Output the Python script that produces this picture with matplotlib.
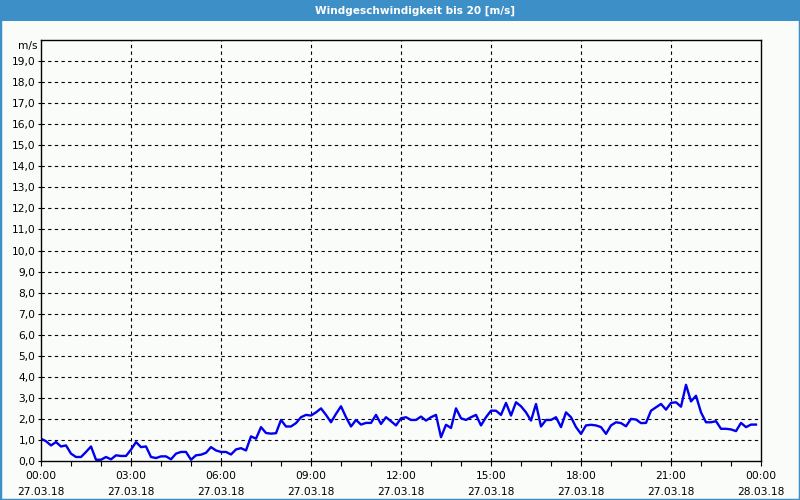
import matplotlib.pyplot as plt
from matplotlib.patches import Rectangle
from matplotlib.ticker import FixedLocator, MultipleLocator

# --- Daten: Windgeschwindigkeit in 10-Minuten-Schritten (27.03.18) ---
step_h = 1 / 6
wind = [
    1.06, 0.94, 0.74, 0.90, 0.69, 0.74, 0.35, 0.19, 0.19, 0.43,
    0.69, 0.06, 0.06, 0.19, 0.08, 0.27, 0.24, 0.24, 0.54, 0.90,
    0.66, 0.69, 0.19, 0.14, 0.22, 0.22, 0.08, 0.35, 0.43, 0.43,
    0.06, 0.27, 0.30, 0.39, 0.66, 0.50, 0.43, 0.43, 0.31, 0.55,
    0.61, 0.50, 1.17, 1.06, 1.61, 1.33, 1.30, 1.32, 1.95, 1.64,
    1.64, 1.80, 2.08, 2.19, 2.16, 2.31, 2.50, 2.19, 1.84, 2.24,
    2.60, 2.08, 1.64, 1.95, 1.73, 1.81, 1.81, 2.19, 1.76, 2.08,
    1.89, 1.69, 2.03, 2.08, 1.95, 1.95, 2.11, 1.92, 2.08, 2.19,
    1.13, 1.72, 1.57, 2.50, 2.03, 1.95, 2.08, 2.19, 1.69, 2.08,
    2.39, 2.39, 2.19, 2.76, 2.16, 2.79, 2.60, 2.31, 1.92, 2.71,
    1.64, 1.95, 1.95, 2.08, 1.61, 2.31, 2.08, 1.61, 1.29, 1.69,
    1.72, 1.69, 1.61, 1.29, 1.69, 1.84, 1.80, 1.65, 2.00, 1.97,
    1.80, 1.81, 2.39, 2.55, 2.71, 2.44, 2.76, 2.79, 2.58, 3.62,
    2.83, 3.10, 2.31, 1.84, 1.84, 1.89, 1.53, 1.53, 1.50, 1.42,
    1.81, 1.61, 1.73, 1.73,
]
hours = [i * step_h for i in range(len(wind))]

tick_hours = [0, 3, 6, 9, 12, 15, 18, 21, 24]
tick_labels = ['00:00\n27.03.18', '03:00\n27.03.18', '06:00\n27.03.18',
               '09:00\n27.03.18', '12:00\n27.03.18', '15:00\n27.03.18',
               '18:00\n27.03.18', '21:00\n27.03.18', '00:00\n28.03.18']
y_ticks = list(range(0, 20))
y_labels = [f'{v},0' for v in y_ticks]

title = 'Windgeschwindigkeit bis 20 [m/s]'
bar_blue = '#3d8fc7'

fig = plt.figure(figsize=(8, 5), dpi=100, facecolor='#fafcfa')
ax = fig.add_axes([41 / 800, 39 / 500, 720 / 800, 421 / 500])
ax.set_facecolor('#fafcfa')

ax.plot(hours, wind, color='#0000ee', linewidth=1.7)

ax.set_xlim(0, 24)
ax.set_ylim(0, 20)
ax.xaxis.set_major_locator(FixedLocator(tick_hours))
ax.set_xticklabels(tick_labels, fontsize=7.7, linespacing=1.7)
ax.xaxis.set_minor_locator(MultipleLocator(1))
ax.set_yticks(y_ticks)
ax.set_yticklabels(y_labels, fontsize=7.7)

ax.tick_params(axis='x', which='both', length=3.5, width=0.8, pad=4)
ax.tick_params(axis='y', length=2, width=0.8, pad=2)

# Gitter gestrichelt
for h in tick_hours[1:-1]:
    ax.axvline(h, color='black', linestyle=(0, (3, 3)), linewidth=0.8, zorder=1)
for v in y_ticks[1:]:
    ax.axhline(v, color='black', linestyle=(0, (3, 3)), linewidth=0.8, zorder=1)

for s in ax.spines.values():
    s.set_linewidth(1.0)
    s.set_color('black')

ax.text(-0.005, 19.7, 'm/s', transform=ax.get_yaxis_transform(),
        ha='right', va='center', fontsize=7.7)

# Titelleiste
fig.patches.append(Rectangle((0, 1 - 21 / 500), 1, 21 / 500, transform=fig.transFigure,
                             facecolor=bar_blue, edgecolor='none', zorder=0))
fig.text(415 / 800, 1 - 10.5 / 500, title, color='white', fontsize=7.6, fontweight='bold',
         ha='center', va='center')
fig.patches.append(Rectangle((0, 0), 1, 1, transform=fig.transFigure,
                             fill=False, edgecolor=bar_blue, linewidth=2.5))

fig.savefig('out.png', dpi=100, facecolor=fig.get_facecolor())
